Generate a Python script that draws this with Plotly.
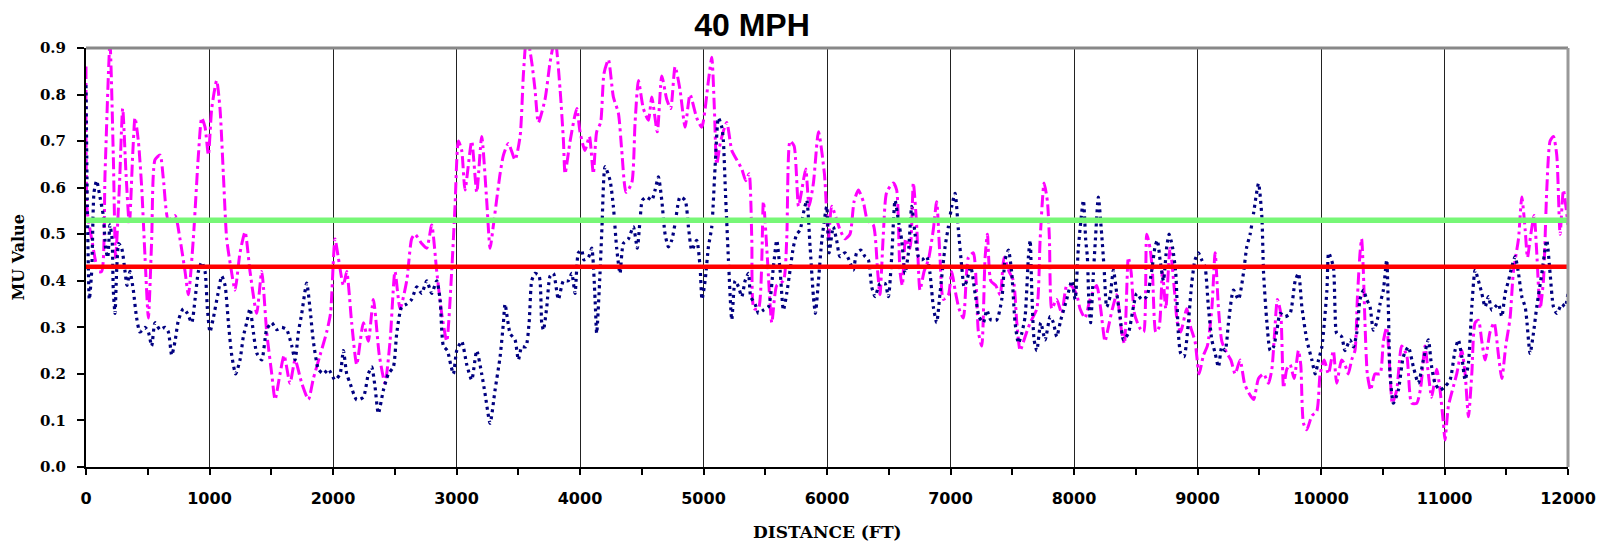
import plotly.graph_objects as go

# ---------------- data ----------------
PINK_FT = [0, 10, 46, 100, 127, 154, 194, 221, 240, 270, 297, 324, 351, 378, 397, 424, 451, 478, 505, 532,
           559, 600, 626, 667, 721, 761, 802, 829, 869, 910, 937, 964, 991, 1018, 1058, 1085, 1112, 1139, 1172, 1207,
           1247, 1288, 1328, 1382, 1423, 1463, 1504, 1531, 1571, 1604, 1652, 1693, 1747, 1801, 1841, 1895, 1949, 1980,
           2016, 2043, 2084, 2111, 2151, 2192, 2246, 2286, 2327, 2375, 2421, 2462, 2502, 2543, 2597, 2637, 2664, 2718,
           2759, 2799, 2840, 2880, 2921, 2961, 2988, 3015, 3042, 3069, 3123, 3164, 3204, 3245, 3272, 3299, 3353, 3380,
           3420, 3474, 3515, 3542, 3569, 3609, 3636, 3663, 3717, 3758, 3798, 3839, 3866, 3879, 3920, 3974,
           4000, 4040, 4076, 4108, 4135, 4167, 4194, 4230, 4270, 4311, 4338, 4373, 4419, 4446, 4473, 4513, 4554, 4581,
           4626, 4662, 4702, 4734, 4770, 4810, 4851, 4891, 4945, 4986, 5040, 5067, 5088, 5107, 5139, 5188, 5229, 5269,
           5310, 5342, 5369, 5391, 5409, 5445, 5485, 5517, 5553, 5593, 5647, 5674, 5701, 5733, 5769, 5796, 5828, 5855,
           5890, 5931, 5979, 6012, 6038, 6105, 6146, 6186, 6219, 6254, 6294, 6327, 6375, 6410, 6429, 6456, 6483, 6537,
           6564, 6591, 6610, 6637, 6672, 6699, 6726, 6753, 6786, 6821, 6861, 6888, 6915, 6942, 6983, 7010, 7037, 7069,
           7104, 7145, 7185, 7226, 7253, 7280, 7299, 7326, 7366, 7402, 7434, 7474, 7510, 7537, 7564, 7604, 7645, 7699,
           7726, 7758, 7785, 7801, 7820, 7860, 7901, 7941, 7974, 8022, 8049, 8089, 8130, 8184, 8216, 8251, 8278, 8311,
           8346, 8386, 8408, 8440, 8462, 8489, 8529, 8564, 8589, 8616, 8635, 8662, 8689, 8716, 8743, 8778, 8813, 8837,
           8864, 8913, 8945, 8980, 9013, 9048, 9080, 9116, 9143, 9170, 9197, 9237, 9270, 9305, 9345, 9380, 9413, 9454,
           9494, 9535, 9575, 9602, 9620, 9647, 9674, 9697, 9723, 9750, 9782, 9817, 9836, 9858, 9885, 9926, 9966, 9993,
           10026, 10060, 10100, 10127, 10167, 10194, 10221, 10248, 10275, 10294, 10316, 10329, 10343, 10356, 10375,
           10402, 10437, 10478, 10505, 10532, 10559, 10578, 10613, 10653, 10694, 10734, 10775, 10807, 10842, 10869,
           10896, 10937, 10964, 10991, 11004, 11031, 11064, 11099, 11140, 11167, 11194, 11221, 11248, 11275, 11302,
           11329, 11369, 11402, 11437, 11464, 11496, 11531, 11558, 11599, 11626, 11653, 11672, 11699, 11726, 11747,
           11774, 11801, 11828, 11855, 11882, 11909, 11936, 11963, 12000]
PINK_MU = [0.86, 0.55, 0.49, 0.42, 0.42, 0.63, 0.91, 0.67, 0.45, 0.60, 0.77, 0.63, 0.52, 0.67, 0.75, 0.70, 0.60, 0.45, 0.32, 0.49,
           0.66, 0.67, 0.62, 0.53, 0.54, 0.49, 0.42, 0.37, 0.49, 0.67, 0.75, 0.73, 0.67, 0.77, 0.83, 0.77, 0.63, 0.49, 0.43, 0.38,
           0.46, 0.505, 0.42, 0.33, 0.42, 0.29, 0.20, 0.145, 0.20, 0.24, 0.18, 0.23, 0.18, 0.145, 0.19, 0.24, 0.29, 0.33,
           0.49, 0.45, 0.39, 0.42, 0.31, 0.22, 0.31, 0.27, 0.36, 0.24, 0.18, 0.27, 0.42, 0.34, 0.40, 0.49, 0.50, 0.48,
           0.47, 0.52, 0.42, 0.33, 0.27, 0.42, 0.56, 0.70, 0.68, 0.595, 0.70, 0.59, 0.71, 0.57, 0.47, 0.52, 0.63, 0.67,
           0.695, 0.66, 0.71, 0.845, 0.93, 0.87, 0.81, 0.74, 0.79, 0.87, 0.92, 0.81, 0.70, 0.63, 0.70, 0.77,
           0.72, 0.68, 0.71, 0.63, 0.72, 0.74, 0.845, 0.875, 0.795, 0.76, 0.68, 0.59, 0.61, 0.74, 0.83, 0.77, 0.745, 0.795,
           0.72, 0.84, 0.79, 0.77, 0.86, 0.81, 0.73, 0.80, 0.75, 0.73, 0.83, 0.88, 0.77, 0.65, 0.70, 0.74, 0.68, 0.66,
           0.64, 0.615, 0.63, 0.49, 0.34, 0.34, 0.57, 0.45, 0.31, 0.39, 0.40, 0.49, 0.70, 0.69, 0.56, 0.595, 0.64, 0.56,
           0.61, 0.72, 0.63, 0.49, 0.56, 0.51, 0.49, 0.50, 0.57, 0.595, 0.57, 0.53, 0.52, 0.42, 0.37, 0.50, 0.59, 0.61,
           0.595, 0.42, 0.39, 0.49, 0.47, 0.61, 0.52, 0.38, 0.42, 0.445, 0.51, 0.57, 0.45, 0.36, 0.37, 0.42, 0.38, 0.34,
           0.32, 0.45, 0.46, 0.29, 0.26, 0.45, 0.50, 0.40, 0.39, 0.37, 0.45, 0.42, 0.40, 0.31, 0.25, 0.28, 0.31, 0.34,
           0.49, 0.61, 0.57, 0.49, 0.34, 0.36, 0.33, 0.39, 0.39, 0.37, 0.34, 0.32, 0.36, 0.39, 0.34, 0.27, 0.30, 0.34,
           0.37, 0.29, 0.265, 0.45, 0.42, 0.33, 0.30, 0.29, 0.50, 0.47, 0.42, 0.29, 0.30, 0.42, 0.34, 0.47, 0.38, 0.31,
           0.29, 0.34, 0.30, 0.27, 0.20, 0.24, 0.26, 0.34, 0.46, 0.34, 0.27, 0.245, 0.23, 0.20, 0.23, 0.18, 0.16, 0.145,
           0.19, 0.20, 0.18, 0.21, 0.27, 0.36, 0.33, 0.17, 0.21, 0.22, 0.19, 0.25, 0.22, 0.094, 0.08, 0.11, 0.12, 0.20,
           0.23, 0.20, 0.25, 0.18, 0.23, 0.22, 0.20, 0.23, 0.25, 0.36, 0.46, 0.49, 0.42, 0.31, 0.20,
           0.165, 0.20, 0.20, 0.27, 0.30, 0.20, 0.137, 0.165, 0.26, 0.24, 0.137, 0.137, 0.17, 0.26, 0.20,
           0.15, 0.21, 0.165, 0.094, 0.058, 0.13, 0.165, 0.20, 0.25, 0.20, 0.108, 0.20, 0.31, 0.315, 0.27,
           0.23, 0.29, 0.31, 0.24, 0.19, 0.26, 0.32, 0.42, 0.49, 0.58, 0.51, 0.45, 0.50, 0.54, 0.46,
           0.34, 0.40, 0.595, 0.70, 0.71, 0.67, 0.50, 0.595, 0.52]

NAVY_FT = [0, 11, 27, 46, 65, 86, 113, 140, 159, 176, 194, 211, 221, 235, 248, 265, 289, 316, 332, 356, 383, 410,
           437, 478, 505, 532, 559, 599, 640, 667, 694, 721, 748, 788, 821, 856, 883, 910, 937, 964, 983, 1004, 1031,
           1067, 1099, 1126, 1153, 1180, 1212, 1247, 1274, 1301, 1328, 1355, 1382, 1423, 1463, 1504, 1544, 1585, 1625,
           1666, 1693, 1720, 1747, 1787, 1814, 1841, 1882, 1922, 1963, 2016, 2057, 2084, 2111, 2138, 2192, 2246, 2286,
           2313, 2340, 2367, 2408, 2448, 2489, 2516, 2556, 2597, 2637, 2678, 2718, 2759, 2799, 2840, 2867, 2894, 2926,
           2953, 2975, 3002, 3042, 3083, 3123, 3164, 3204, 3231, 3272, 3312, 3353, 3380, 3393, 3434, 3474, 3501, 3528,
           3561, 3588, 3609, 3636, 3669, 3690, 3704, 3731, 3758, 3785, 3825, 3866, 3906, 3933, 3960, 3987, 4014, 4032,
           4068, 4095, 4122, 4135, 4162, 4178, 4203, 4243, 4270, 4297, 4324, 4351, 4392, 4432, 4464, 4486, 4505, 4540,
           4581, 4608, 4635, 4662, 4689, 4716, 4743, 4770, 4810, 4851, 4878, 4905, 4945, 4972, 4988, 5013, 5040, 5067,
           5094, 5121, 5148, 5161, 5177, 5202, 5229, 5256, 5283, 5310, 5337, 5364, 5382, 5418, 5445, 5485, 5526, 5566,
           5593, 5620, 5647, 5674, 5701, 5728, 5755, 5782, 5809, 5836, 5863, 5890, 5906, 5931, 5958, 5998, 6017, 6051,
           6078, 6105, 6146, 6178, 6213, 6240, 6273, 6308, 6335, 6362, 6389, 6429, 6470, 6497, 6524, 6551, 6578, 6605,
           6632, 6659, 6686, 6713, 6740, 6767, 6807, 6834, 6861, 6888, 6915, 6956, 6983, 7010, 7037, 7064, 7091, 7110,
           7132, 7164, 7199, 7231, 7266, 7294, 7326, 7374, 7415, 7442, 7469, 7496, 7523, 7550, 7577, 7604, 7631, 7645,
           7658, 7677, 7699, 7731, 7766, 7807, 7833, 7860, 7893, 7941, 7982, 8009, 8036, 8076, 8095, 8108, 8122, 8135,
           8157, 8173, 8197, 8224, 8243, 8265, 8292, 8319, 8346, 8373, 8400, 8440, 8481, 8508, 8548, 8589, 8630, 8656,
           8675, 8697, 8724, 8751, 8770, 8797, 8824, 8845, 8864, 8891, 8926, 8953, 8980, 9007, 9034, 9061, 9088, 9116,
           9143, 9170, 9197, 9224, 9251, 9291, 9332, 9372, 9399, 9426, 9454, 9494, 9521, 9535, 9562, 9589, 9616, 9643,
           9670, 9710, 9750, 9791, 9818, 9845, 9885, 9926, 9953, 9980, 10007, 10048, 10062, 10100, 10113, 10127, 10167,
           10194, 10235, 10262, 10289, 10316, 10343, 10370, 10397, 10424, 10451, 10478, 10505, 10532, 10545, 10559,
           10586, 10626, 10667, 10707, 10748, 10788, 10829, 10869, 10896, 10923, 10964, 11004, 11045, 11085, 11112,
           11140, 11167, 11194, 11221, 11248, 11275, 11302, 11329, 11356, 11383, 11410, 11437, 11464, 11491, 11518,
           11545, 11572, 11599, 11626, 11653, 11666, 11693, 11720, 11747, 11788, 11828, 11855, 11882, 11909, 11950,
           11977, 12000]
NAVY_MU = [0.82, 0.56, 0.36, 0.42, 0.59, 0.615, 0.58, 0.54, 0.47, 0.45, 0.52, 0.49, 0.38, 0.33, 0.42, 0.48, 0.47, 0.42, 0.39, 0.42, 0.38, 0.32,
           0.29, 0.30, 0.29, 0.26, 0.31, 0.295, 0.30, 0.29, 0.24, 0.27, 0.315, 0.34, 0.33, 0.31, 0.36, 0.42, 0.44, 0.42, 0.34, 0.29, 0.32,
           0.37, 0.41, 0.39, 0.31, 0.24, 0.20, 0.23, 0.28, 0.31, 0.34, 0.29, 0.245, 0.23, 0.295, 0.31, 0.295, 0.30, 0.295,
           0.26, 0.23, 0.29, 0.33, 0.395, 0.34, 0.27, 0.21, 0.20, 0.21, 0.187, 0.20, 0.25, 0.20, 0.18, 0.144, 0.15, 0.20,
           0.215, 0.173, 0.115, 0.165, 0.20, 0.215, 0.287, 0.344, 0.35, 0.36, 0.387, 0.373, 0.40, 0.373, 0.40, 0.36, 0.26, 0.25,
           0.22, 0.20, 0.25, 0.27, 0.22, 0.187, 0.25, 0.20, 0.158, 0.094, 0.165, 0.237, 0.31, 0.35, 0.287, 0.273, 0.23, 0.258,
           0.258, 0.31, 0.40, 0.416, 0.41, 0.31, 0.294, 0.344, 0.41, 0.416, 0.36, 0.40, 0.40, 0.416, 0.373, 0.46, 0.466, 0.445,
           0.45, 0.47, 0.36, 0.287, 0.416, 0.516, 0.645, 0.616, 0.56, 0.47, 0.416, 0.48, 0.49, 0.516, 0.47, 0.53, 0.573, 0.58,
           0.573, 0.595, 0.623, 0.573, 0.50, 0.473, 0.487, 0.523, 0.58, 0.573, 0.516, 0.466, 0.487, 0.43, 0.36, 0.40, 0.473, 0.516,
           0.645, 0.75, 0.73, 0.70, 0.595, 0.445, 0.316, 0.40, 0.387, 0.366, 0.40, 0.416, 0.366, 0.35, 0.33, 0.337, 0.344, 0.43,
           0.487, 0.423, 0.337, 0.373, 0.423, 0.473, 0.50, 0.509, 0.545, 0.573, 0.473, 0.366, 0.33, 0.40, 0.487, 0.56, 0.46, 0.516,
           0.487, 0.452, 0.46, 0.445, 0.423, 0.46, 0.466, 0.452, 0.445, 0.387, 0.366, 0.394, 0.394, 0.366, 0.452, 0.573, 0.53, 0.487,
           0.416, 0.46, 0.56, 0.50, 0.452, 0.445, 0.452, 0.416, 0.344, 0.31, 0.373, 0.473, 0.516, 0.56, 0.588, 0.509, 0.43, 0.387,
           0.40, 0.43, 0.373, 0.323, 0.31, 0.337, 0.316, 0.316, 0.36, 0.445, 0.466, 0.416, 0.31, 0.266, 0.287, 0.323, 0.452, 0.487,
           0.38, 0.273, 0.25, 0.31, 0.273, 0.323, 0.31, 0.28, 0.316, 0.36, 0.40, 0.36, 0.473, 0.573, 0.487, 0.452, 0.344, 0.31,
           0.416, 0.487, 0.58, 0.50, 0.43, 0.344, 0.366, 0.423, 0.373, 0.323, 0.273, 0.287, 0.344, 0.373, 0.36, 0.366, 0.423, 0.473,
           0.487, 0.445, 0.40, 0.473, 0.50, 0.473, 0.416, 0.287, 0.244, 0.237, 0.31, 0.394, 0.445, 0.46, 0.445, 0.43, 0.344, 0.273,
           0.244, 0.215, 0.258, 0.25, 0.31, 0.38, 0.36, 0.416, 0.473, 0.50, 0.545, 0.609, 0.538, 0.416, 0.31, 0.25, 0.258, 0.294,
           0.33, 0.323, 0.33, 0.40, 0.416, 0.344, 0.273, 0.23, 0.20, 0.23, 0.258, 0.38, 0.46, 0.43, 0.344, 0.287, 0.28,
           0.25, 0.273, 0.258, 0.287, 0.36, 0.38, 0.36, 0.344, 0.294, 0.31, 0.35, 0.38, 0.445, 0.344, 0.20,
           0.137, 0.165, 0.237, 0.258, 0.215, 0.18, 0.23, 0.273, 0.215, 0.18, 0.165, 0.173, 0.187, 0.25, 0.273,
           0.237, 0.187, 0.223, 0.344, 0.423, 0.40, 0.373, 0.344, 0.366, 0.337, 0.344, 0.35, 0.323, 0.373, 0.40,
           0.43, 0.452, 0.416, 0.366, 0.344, 0.316, 0.244, 0.287, 0.344, 0.416, 0.487, 0.416, 0.344, 0.33, 0.35,
           0.344, 0.373]

LIMIT_GREEN = 0.53
LIMIT_RED = 0.43
X_RANGE = [0, 12000]
X_TICKS = list(range(0, 12001, 1000))
Y_TICKS = [0.0, 0.1, 0.2, 0.3, 0.4, 0.5, 0.6, 0.7, 0.8, 0.9]
TITLE = "40 MPH"
X_TITLE = "DISTANCE (FT)"
Y_TITLE = "MU Value"

# ---------------- figure ----------------
fig = go.Figure()
fig.add_trace(go.Scatter(x=PINK_FT, y=PINK_MU, mode="lines",
                         line=dict(color="#ff00ff", width=3, dash="12px,4px,3px,4px", shape="spline", smoothing=0.6),
                         hoverinfo="skip"))
fig.add_trace(go.Scatter(x=NAVY_FT, y=NAVY_MU, mode="lines",
                         line=dict(color="#000080", width=3.2, dash="3px,4px", shape="spline", smoothing=0.6),
                         hoverinfo="skip"))
fig.add_trace(go.Scatter(x=X_RANGE, y=[LIMIT_GREEN, LIMIT_GREEN], mode="lines",
                         line=dict(color="#77f777", width=5.5), hoverinfo="skip"))
fig.add_trace(go.Scatter(x=X_RANGE, y=[LIMIT_RED, LIMIT_RED], mode="lines",
                         line=dict(color="#ff0000", width=4.5), hoverinfo="skip"))

fig.update_layout(
    template="none",
    width=1600, height=546, autosize=False,
    margin=dict(l=86, r=32, t=48, b=79, pad=0),
    paper_bgcolor="white", plot_bgcolor="white",
    showlegend=False,
    title=dict(text=TITLE, x=752 / 1600, xref="container", xanchor="center",
               y=1 - 25 / 546, yref="container", yanchor="middle",
               font=dict(family="Liberation Sans", size=32, color="black", weight="bold")),
    xaxis=dict(range=X_RANGE, tickvals=X_TICKS, ticktext=[str(v) for v in X_TICKS], automargin=False,
               showgrid=True, gridcolor="#222222", gridwidth=1,
               showline=True, linecolor="black", linewidth=2,
               ticks="outside", ticklen=6, tickwidth=2, tickcolor="black",
               minor=dict(dtick=500, tick0=0, ticks="outside", ticklen=6, tickwidth=2, tickcolor="black", showgrid=False),
               tickfont=dict(family="DejaVu Sans", size=16, color="black", weight="bold"),
               ticklabelstandoff=10, zeroline=False, fixedrange=True),
    yaxis=dict(range=[0, 0.9], tickvals=Y_TICKS, tickformat=".1f", automargin=False,
               showgrid=False, zeroline=False,
               showline=True, linecolor="black", linewidth=2,
               ticks="outside", ticklen=7, tickwidth=2, tickcolor="black",
               tickfont=dict(family="DejaVu Serif", size=15, color="black", weight="bold"),
               ticklabelstandoff=8, fixedrange=True),
    shapes=[
        dict(type="line", xref="paper", yref="paper", x0=0, x1=1, y0=1, y1=1,
             line=dict(color="#888888", width=3)),
        dict(type="line", xref="paper", yref="paper", x0=1, x1=1, y0=0, y1=1,
             line=dict(color="#999999", width=3)),
    ],
    annotations=[
        dict(text=Y_TITLE, xref="paper", yref="paper", x=(18 - 86) / 1482, y=0.5, textangle=-90,
             showarrow=False, xanchor="center", yanchor="middle",
             font=dict(family="DejaVu Serif", size=16, color="black", weight="bold")),
        dict(text=X_TITLE, xref="paper", yref="paper", x=0.5, y=-(532 - 467) / 419,
             showarrow=False, xanchor="center", yanchor="middle",
             font=dict(family="DejaVu Serif", size=17, color="black", weight="bold")),
    ],
)

fig.write_html("out.html",
               config={"displayModeBar": False, "responsive": False},
               post_script="document.body.style.margin='0';document.body.style.padding='0';"
                           "document.body.style.overflow='hidden';"
                           "document.documentElement.style.overflow='hidden';")
